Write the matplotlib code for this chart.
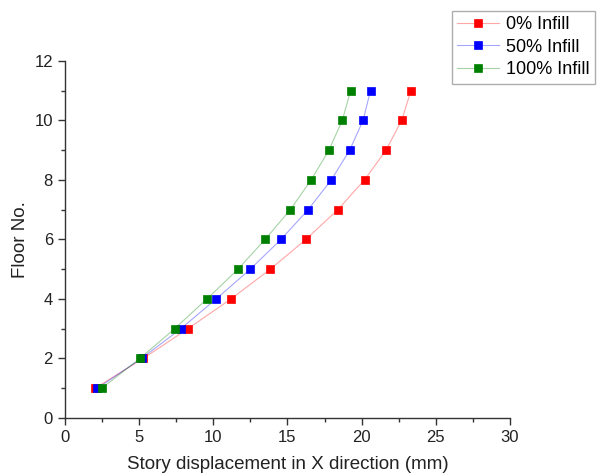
import matplotlib
matplotlib.use("Agg")
import matplotlib.pyplot as plt
from matplotlib.ticker import MultipleLocator

plt.rcParams['font.family'] = ['Liberation Sans', 'DejaVu Sans']

floors = [1, 2, 3, 4, 5, 6, 7, 8, 9, 10, 11]
disp_0 = [2.04, 5.28, 8.3, 11.2, 13.85, 16.25, 18.4, 20.2, 21.65, 22.7, 23.33]
disp_50 = [2.2, 5.17, 7.82, 10.2, 12.5, 14.57, 16.4, 17.96, 19.2, 20.1, 20.6]
disp_100 = [2.5, 5.06, 7.4, 9.58, 11.67, 13.5, 15.2, 16.6, 17.8, 18.7, 19.26]
labels = ['0% Infill', '50% Infill', '100% Infill']
colors = ['#ff0000', '#0000ff', '#008000']

fig = plt.figure(figsize=(6, 4.75), dpi=100)
ax = fig.add_axes([0.108, 0.12, 0.742, 0.752])

handles = []
for d, lab, c in zip([disp_0, disp_50, disp_100], labels, colors):
    ln, = ax.plot(d, floors, '-', color=c, lw=0.8, alpha=0.35, zorder=2)
    mk, = ax.plot(d, floors, 's', color=c, ms=5.5, mec=c, mew=0.5, zorder=3)
    handles.append((ln, mk))

ax.set_xlim(0, 30)
ax.set_ylim(0, 12)
ax.xaxis.set_major_locator(MultipleLocator(5))
ax.xaxis.set_minor_locator(MultipleLocator(2.5))
ax.yaxis.set_major_locator(MultipleLocator(2))
ax.yaxis.set_minor_locator(MultipleLocator(1))
for s in ['top', 'right']:
    ax.spines[s].set_visible(False)
for s in ['left', 'bottom']:
    ax.spines[s].set_color('#333333')
    ax.spines[s].set_linewidth(1.0)
ax.tick_params(which='major', direction='out', length=5, width=1, colors='#333333', labelsize=12, labelcolor='#222222')
ax.tick_params(which='minor', direction='out', length=3, width=1, colors='#333333')

ax.set_xlabel('Story displacement in X direction (mm)', fontsize=13.5, color='#222222', labelpad=8)
ax.set_ylabel('Floor No.', fontsize=13.5, color='#222222', labelpad=4)

leg = fig.legend(handles, labels, loc='upper left', bbox_to_anchor=(0.753, 0.977),
                 fontsize=13, frameon=True, fancybox=False, edgecolor='#999999',
                 handlelength=2.3, handletextpad=0.4, borderpad=0.3, labelspacing=0.3,
                 borderaxespad=0)
leg.get_frame().set_linewidth(1.0)

fig.savefig('out.png', dpi=100)
